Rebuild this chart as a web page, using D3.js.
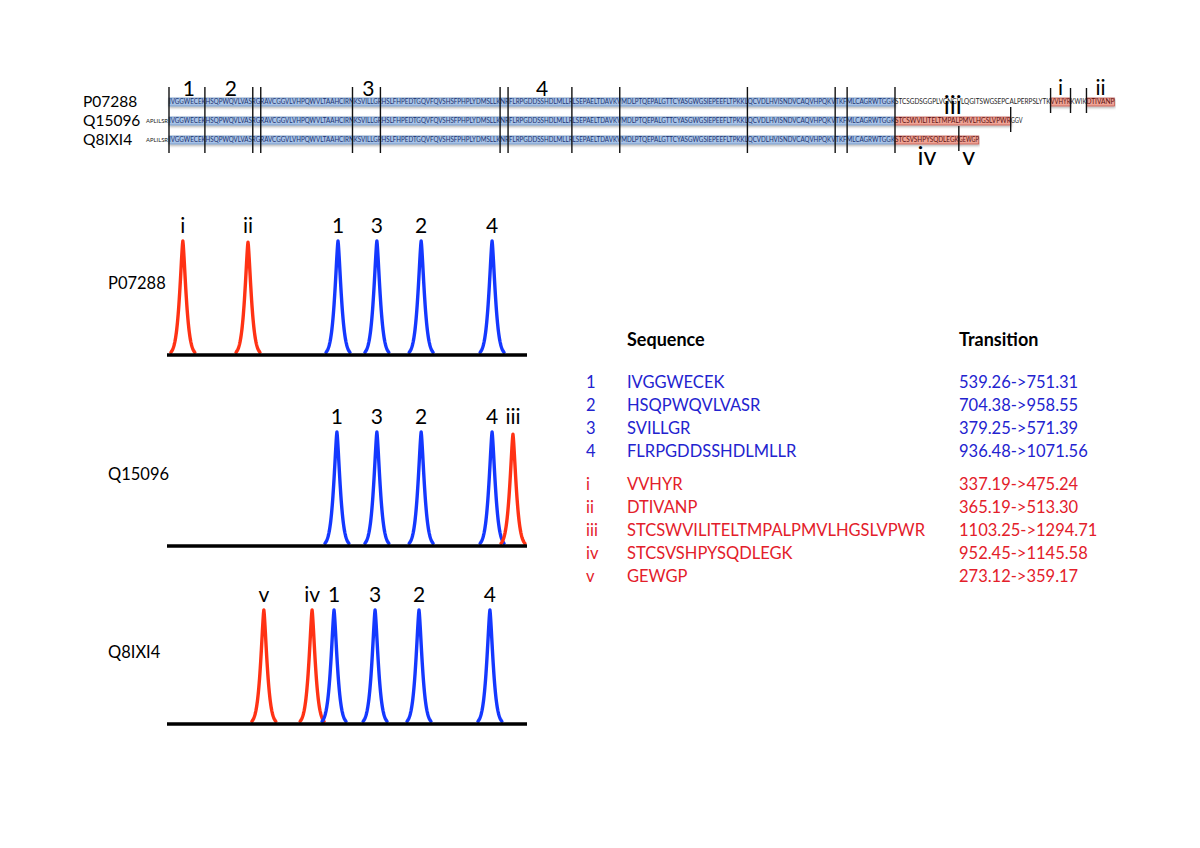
<!DOCTYPE html>
<html>
<head>
<meta charset="utf-8">
<script src="https://cdn.jsdelivr.net/npm/d3@7"></script>
<style>
  body { margin: 0; background: #fff; }
  svg { display: block; }
  text { font-family: Lato, "Open Sans", sans-serif; }
</style>
</head>
<body>
<svg id="chart" width="1200" height="848"></svg>
<script>
// protein accessions (top alignment + chromatogram panels)
const proteins = ["P07288", "Q15096", "Q8IXI4"];

// sequence shared by all three isoforms (residues 1-182)
const sharedSeq = "IVGGWECEKHSQPWQVLVASRGRAVCGGVLVHPQWVLTAAHCIRNKSVILLGRHSLFHPEDTGQVFQVSHSFPHPLYDMSLLKNRFLRPGDDSSHDLMLLRLSEPAELTDAVKVMDLPTQEPALGTTCYASGWGSIEPEEFLTPKKLQCVDLHVISNDVCAQVHPQKVTKFMLCAGRWTGGK";
const rowPrefix = ["", "APLILSR", "APLILSR"];
// what follows the shared part, per protein: [residues, kind]
const rowTails = [
  [["STCSGDSGGPLVCNGVLQGITSWGSEPCALPERPSLYTK", "plain"], ["VVHYR", "unique"], ["KWIK", "plain"], ["DTIVANP", "unique"]],
  [["STCSWVILITELTMPALPMVLHGSLVPWR", "unique"], ["GGV", "plain"]],
  [["STCSVSHPYSQDLEGK", "unique"], ["GEWGP", "unique"]]
];

// tryptic cleavage marks through all rows (residue index)
const cleavageSites = [0, 9, 21, 23, 46, 53, 83, 85, 101, 113, 145, 167, 170, 182];
// shared peptides: label, start, end
const sharedPeptides = [["1", 0, 9], ["2", 9, 21], ["3", 46, 53], ["4", 85, 101]];
// unique peptides: label, row, start, end, side
const uniquePeptides = [["i", 0, 221, 226, "above"], ["ii", 0, 230, 237, "above"], ["iii", 1, 182, 211, "above"], ["iv", 2, 182, 198, "below"], ["v", 2, 198, 203, "below"]];
// short marks for unique peptides: row, residue
const uniqueMarks = [[0, 221], [0, 226], [0, 230], [1, 211], [2, 198]];

// chromatograms: peak labels, retention (relative 0-100) and height
const chromLabels = [["i", "ii", "1", "3", "2", "4"], ["1", "3", "2", "4", "iii"], ["v", "iv", "1", "3", "2", "4"]];
const chromTimes = [[4.4, 22.5, 47.5, 58.3, 70.6, 90.3], [47.2, 58.3, 70.6, 90.3, 96.1], [26.9, 40.3, 46.4, 57.8, 70.0, 89.7]];
const chromHeights = [[1.0, 0.99, 1.0, 1.0, 1.0, 1.0], [1.0, 1.0, 1.0, 1.0, 0.98], [1.0, 1.0, 1.0, 1.0, 1.0, 1.0]];

// transition table
const tableIds = ["1", "2", "3", "4", "i", "ii", "iii", "iv", "v"];
const tablePeptides = ["IVGGWECEK", "HSQPWQVLVASR", "SVILLGR", "FLRPGDDSSHDLMLLR", "VVHYR", "DTIVANP", "STCSWVILITELTMPALPMVLHGSLVPWR", "STCSVSHPYSQDLEGK", "GEWGP"];
const tableTransitions = ["539.26->751.31", "704.38->958.55", "379.25->571.39", "936.48->1071.56", "337.19->475.24", "365.19->513.30", "1103.25->1294.71", "952.45->1145.58", "273.12->359.17"];

const blue = "#1438ff", red = "#ff3214";
const txtBlue = "#2323cf", txtRed = "#e3202a";
const isShared = id => /^[0-9]+$/.test(id);

const svg = d3.select("#chart");

const defs = svg.append("defs");
const f = defs.append("filter").attr("id", "shadow").attr("x", "-5%").attr("y", "-50%").attr("width", "110%").attr("height", "250%");
f.append("feDropShadow").attr("dx", 0.5).attr("dy", 1.5).attr("stdDeviation", 1).attr("flood-color", "#000").attr("flood-opacity", 0.3);

// ---------------- alignment ----------------
const xRes = d3.scaleLinear().domain([0, 182]).range([169, 895]);
const rowY = d3.scalePoint().domain(d3.range(3)).range([98, 136]);
const boxH = 8;

const align = svg.append("g");

align.selectAll("text.acc")
  .data(proteins)
  .enter().append("text")
  .attr("x", 83)
  .attr("y", (d, i) => rowY(i) + 9)
  .attr("font-size", 15.5)
  .text(d => d);

proteins.forEach(function (p, r) {
  const y = rowY(r);
  // segments: shared, then tail
  let segs = [{ seq: sharedSeq, kind: "shared", start: 0 }];
  let pos = sharedSeq.length;
  rowTails[r].forEach(function (t) {
    segs.push({ seq: t[0], kind: t[1], start: pos });
    pos += t[0].length;
  });
  segs.forEach(s => s.end = s.start + s.seq.length);

  align.selectAll(null)
    .data(segs.filter(s => s.kind !== "plain"))
    .enter().append("rect")
    .attr("x", s => xRes(s.start))
    .attr("y", y)
    .attr("width", s => xRes(s.end) - xRes(s.start))
    .attr("height", boxH)
    .attr("fill", s => s.kind === "shared" ? "#a7c2e6" : "#efa395")
    .attr("stroke", s => s.kind === "shared" ? "#6f93c4" : "#c4574f")
    .attr("stroke-width", 0.8)
    .attr("filter", "url(#shadow)");

  align.selectAll(null)
    .data(segs)
    .enter().append("text")
    .attr("x", s => xRes(s.start))
    .attr("y", y + 6.3)
    .attr("font-family", "'Liberation Sans', Arial, sans-serif")
    .attr("font-size", 6.6)
    .attr("fill", s => s.kind === "plain" ? "#222" : (s.kind === "shared" ? "#1d3370" : "#5a1010"))
    .attr("textLength", s => xRes(s.end) - xRes(s.start))
    .attr("lengthAdjust", "spacingAndGlyphs")
    .text(s => s.seq);

  if (rowPrefix[r]) {
    align.append("text")
      .attr("x", xRes(0) - 1)
      .attr("y", y + 6.3)
      .attr("text-anchor", "end")
      .attr("font-family", "'Liberation Sans', Arial, sans-serif")
      .attr("font-size", 6)
      .attr("fill", "#222")
      .attr("textLength", 22)
      .attr("lengthAdjust", "spacingAndGlyphs")
      .text(rowPrefix[r]);
  }
});

align.selectAll("line.cut")
  .data(cleavageSites)
  .enter().append("line")
  .attr("x1", d => xRes(d)).attr("x2", d => xRes(d))
  .attr("y1", 87).attr("y2", 153)
  .attr("stroke", "#111").attr("stroke-width", 1.4);

align.selectAll("line.ucut")
  .data(uniqueMarks)
  .enter().append("line")
  .attr("x1", d => xRes(d[1])).attr("x2", d => xRes(d[1]))
  .attr("y1", d => rowY(d[0]) - 10)
  .attr("y2", d => rowY(d[0]) + 15)
  .attr("stroke", "#111").attr("stroke-width", 1.4);

align.selectAll("text.pep")
  .data(sharedPeptides)
  .enter().append("text")
  .attr("x", d => (xRes(d[1]) + xRes(d[2])) / 2 + 2)
  .attr("y", 96)
  .attr("text-anchor", "middle")
  .attr("font-size", 21)
  .text(d => d[0]);

align.selectAll("text.upep")
  .data(uniquePeptides)
  .enter().append("text")
  .attr("x", d => (xRes(d[2]) + xRes(d[3])) / 2)
  .attr("y", d => d[4] === "above" ? rowY(d[1]) - 3 : rowY(d[1]) + 29)
  .attr("text-anchor", "middle")
  .attr("font-size", d => d[1] === 0 ? 21 : 25)
  .text(d => d[0]);

// ---------------- chromatograms ----------------
const xRt = d3.scaleLinear().domain([0, 100]).range([167, 527]);
const baseYs = [355, 546, 724];
const peakH = 114;

function peakShape(dx) {
  // sharp-topped peak with flared base
  return Math.exp(-Math.pow(Math.abs(dx) / 1.27, 1.38));
}

proteins.forEach(function (p, k) {
  const g = svg.append("g");
  const y = d3.scaleLinear().domain([0, 1]).range([baseYs[k], baseYs[k] - peakH]);

  g.append("text")
    .attr("x", 108)
    .attr("y", baseYs[k] - 66)
    .attr("font-size", 16.5)
    .text(p);

  const peaks = chromLabels[k].map((lab, i) => ({ label: lab, t: chromTimes[k][i], h: chromHeights[k][i] }));

  const line = d3.line().x(d => xRt(d[0])).y(d => y(d[1]));

  g.selectAll("path.peak")
    .data(peaks)
    .enter().append("path")
    .attr("d", d => line(d3.range(-3.6, 3.61, 0.1).map(dx => [d.t + dx, d.h * peakShape(dx)])))
    .attr("fill", "none")
    .attr("stroke", d => isShared(d.label) ? blue : red)
    .attr("stroke-width", 3.4)
    .attr("stroke-linejoin", "round");

  g.selectAll("text.plab")
    .data(peaks)
    .enter().append("text")
    .attr("x", d => xRt(d.t))
    .attr("y", baseYs[k] - peakH - 8)
    .attr("text-anchor", "middle")
    .attr("font-size", 21)
    .text(d => d.label);

  g.append("line")
    .attr("x1", xRt(0)).attr("x2", xRt(100))
    .attr("y1", baseYs[k]).attr("y2", baseYs[k])
    .attr("stroke", "#000").attr("stroke-width", 3.5);
});

// ---------------- table ----------------
const tab = svg.append("g");
const rowBase = i => 388 + i * 23 + (i >= 4 ? 10 : 0);

tab.append("text").attr("x", 627).attr("y", 346).attr("font-size", 18).attr("font-weight", "bold").text("Sequence");
tab.append("text").attr("x", 959).attr("y", 346).attr("font-size", 18).attr("font-weight", "bold").text("Transition");

const rows = tab.selectAll("g.row")
  .data(tableIds.map((id, i) => ({ id: id, pep: tablePeptides[i], tr: tableTransitions[i], i: i })))
  .enter().append("g")
  .attr("fill", d => isShared(d.id) ? txtBlue : txtRed)
  .attr("font-size", 16.5);

rows.append("text").attr("x", 586).attr("y", d => rowBase(d.i)).text(d => d.id);
rows.append("text").attr("x", 627).attr("y", d => rowBase(d.i)).text(d => d.pep);
rows.append("text").attr("x", 959).attr("y", d => rowBase(d.i)).text(d => d.tr);
</script>
</body>
</html>
